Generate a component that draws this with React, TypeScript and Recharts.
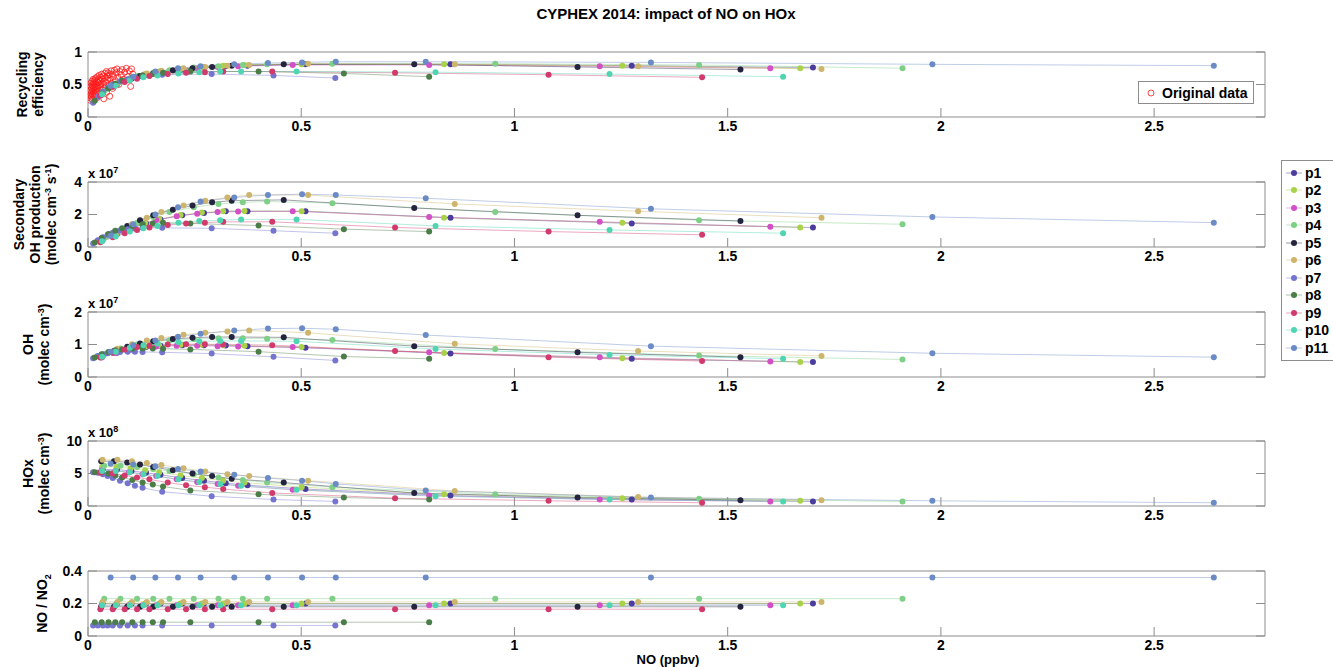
import React from 'react';
import { ComposedChart, Line, Scatter, XAxis, YAxis, Legend } from 'recharts';

const FONT = "'Liberation Sans', Arial, Helvetica, sans-serif";
const AXIS_GREY = '#8c8c8c';

const SERIES = ['p1', 'p2', 'p3', 'p4', 'p5', 'p6', 'p7', 'p8', 'p9', 'p10', 'p11'];
const COLORS = [
  '#4b3d9e', // p1
  '#a9d24a', // p2
  '#d24fc6', // p3
  '#7fcf86', // p4
  '#24243f', // p5
  '#cdb56d', // p6
  '#7575cf', // p7
  '#4b7d48', // p8
  '#d23a6b', // p9
  '#4fd5b2', // p10
  '#6b8bc6', // p11
];

// NO mixing ratio (ppbv) of every model run, one row per scenario
const NO_PPBV: number[][] = [
  [0.034, 0.068, 0.102, 0.136, 0.17, 0.221, 0.272, 0.323, 0.374, 0.51, 0.85, 1.275, 1.7],
  [0.033, 0.067, 0.1, 0.134, 0.167, 0.217, 0.267, 0.317, 0.367, 0.501, 0.835, 1.253, 1.67],
  [0.032, 0.064, 0.096, 0.128, 0.16, 0.208, 0.256, 0.304, 0.352, 0.48, 0.8, 1.2, 1.6],
  [0.038, 0.076, 0.115, 0.153, 0.191, 0.248, 0.306, 0.363, 0.42, 0.573, 0.955, 1.433, 1.91],
  [0.031, 0.061, 0.092, 0.122, 0.153, 0.199, 0.245, 0.291, 0.337, 0.459, 0.765, 1.148, 1.53],
  [0.034, 0.069, 0.103, 0.138, 0.172, 0.224, 0.275, 0.327, 0.378, 0.516, 0.86, 1.29, 1.72],
  [0.012, 0.023, 0.035, 0.046, 0.058, 0.075, 0.093, 0.11, 0.128, 0.174, 0.29, 0.435, 0.58],
  [0.016, 0.032, 0.048, 0.064, 0.08, 0.104, 0.128, 0.152, 0.176, 0.24, 0.4, 0.6, 0.8],
  [0.029, 0.058, 0.086, 0.115, 0.144, 0.187, 0.23, 0.274, 0.317, 0.432, 0.72, 1.08, 1.44],
  [0.033, 0.065, 0.098, 0.13, 0.163, 0.212, 0.261, 0.31, 0.359, 0.489, 0.815, 1.223, 1.63],
  [0.053, 0.106, 0.158, 0.211, 0.264, 0.343, 0.422, 0.502, 0.581, 0.792, 1.32, 1.98, 2.64],
];

// recycling efficiency (fraction)
const RECYCLING: number[][] = [
  [0.36, 0.5, 0.59, 0.65, 0.69, 0.73, 0.76, 0.78, 0.79, 0.81, 0.81, 0.79, 0.76],
  [0.37, 0.51, 0.6, 0.66, 0.7, 0.74, 0.77, 0.79, 0.8, 0.81, 0.81, 0.79, 0.75],
  [0.35, 0.49, 0.58, 0.64, 0.68, 0.72, 0.75, 0.77, 0.78, 0.8, 0.8, 0.78, 0.75],
  [0.4, 0.54, 0.63, 0.68, 0.72, 0.76, 0.78, 0.8, 0.81, 0.82, 0.82, 0.8, 0.75],
  [0.34, 0.48, 0.57, 0.63, 0.67, 0.72, 0.75, 0.77, 0.79, 0.81, 0.81, 0.77, 0.73],
  [0.38, 0.52, 0.61, 0.67, 0.71, 0.75, 0.77, 0.79, 0.8, 0.82, 0.81, 0.78, 0.74],
  [0.22, 0.31, 0.39, 0.45, 0.5, 0.55, 0.58, 0.61, 0.63, 0.65, 0.66, 0.64, 0.6],
  [0.25, 0.36, 0.44, 0.51, 0.56, 0.61, 0.64, 0.66, 0.68, 0.7, 0.7, 0.67, 0.62],
  [0.33, 0.46, 0.54, 0.59, 0.63, 0.66, 0.68, 0.69, 0.7, 0.7, 0.68, 0.65, 0.61],
  [0.35, 0.48, 0.56, 0.61, 0.64, 0.67, 0.69, 0.7, 0.7, 0.7, 0.69, 0.66, 0.62],
  [0.48, 0.62, 0.7, 0.75, 0.78, 0.81, 0.83, 0.84, 0.85, 0.85, 0.84, 0.81, 0.79],
];

// secondary OH production, 1e7 molec cm-3 s-1
const SEC_OH_E7: number[][] = [
  [0.4, 0.8, 1.15, 1.45, 1.7, 1.95, 2.1, 2.2, 2.2, 2.2, 1.8, 1.45, 1.2],
  [0.42, 0.82, 1.18, 1.48, 1.72, 1.97, 2.12, 2.2, 2.22, 2.2, 1.8, 1.5, 1.2],
  [0.4, 0.78, 1.12, 1.42, 1.66, 1.9, 2.05, 2.15, 2.18, 2.2, 1.85, 1.55, 1.25],
  [0.55, 1.05, 1.5, 1.85, 2.15, 2.45, 2.65, 2.75, 2.8, 2.7, 2.15, 1.65, 1.4],
  [0.45, 0.9, 1.3, 1.65, 1.95, 2.3, 2.55, 2.75, 2.85, 2.9, 2.4, 1.95, 1.6],
  [0.5, 0.95, 1.4, 1.8, 2.15, 2.55, 2.85, 3.05, 3.2, 3.2, 2.65, 2.2, 1.8],
  [0.22, 0.42, 0.6, 0.75, 0.88, 1.0, 1.1, 1.15, 1.18, 1.18, 1.15, 1.0, 0.85],
  [0.28, 0.55, 0.8, 1.0, 1.15, 1.3, 1.4, 1.45, 1.5, 1.45, 1.32, 1.1, 0.95],
  [0.3, 0.6, 0.85, 1.05, 1.2, 1.35, 1.45, 1.5, 1.55, 1.55, 1.2, 0.95, 0.75],
  [0.35, 0.65, 0.95, 1.15, 1.3, 1.5, 1.6, 1.65, 1.7, 1.7, 1.3, 1.05, 0.85],
  [0.7, 1.4, 2.0, 2.45, 2.8, 3.05, 3.2, 3.25, 3.2, 3.0, 2.35, 1.85, 1.5],
];

// OH concentration, 1e7 molec cm-3
const OH_E7: number[][] = [
  [0.62, 0.75, 0.85, 0.92, 0.96, 0.98, 0.98, 0.97, 0.95, 0.9, 0.72, 0.56, 0.46],
  [0.63, 0.77, 0.87, 0.93, 0.97, 0.99, 0.99, 0.98, 0.96, 0.92, 0.74, 0.58, 0.46],
  [0.6, 0.74, 0.84, 0.9, 0.94, 0.96, 0.96, 0.95, 0.94, 0.92, 0.76, 0.61, 0.48],
  [0.7, 0.88, 1.0, 1.08, 1.13, 1.17, 1.19, 1.19, 1.18, 1.14, 0.86, 0.66, 0.54],
  [0.62, 0.8, 0.93, 1.03, 1.1, 1.17, 1.21, 1.23, 1.23, 1.22, 0.95, 0.76, 0.61],
  [0.68, 0.87, 1.01, 1.12, 1.2, 1.3, 1.36, 1.4, 1.43, 1.36, 1.02, 0.8, 0.65],
  [0.58, 0.65, 0.7, 0.73, 0.75, 0.77, 0.78, 0.78, 0.77, 0.76, 0.72, 0.62, 0.51],
  [0.6, 0.7, 0.77, 0.82, 0.85, 0.87, 0.88, 0.88, 0.87, 0.85, 0.78, 0.63, 0.56],
  [0.6, 0.75, 0.85, 0.92, 0.96, 1.0, 1.01, 1.01, 1.0, 0.98, 0.8, 0.61, 0.49],
  [0.62, 0.78, 0.9, 0.98, 1.03, 1.08, 1.1, 1.11, 1.11, 1.1, 0.86, 0.68, 0.56],
  [0.78, 0.98, 1.12, 1.24, 1.33, 1.43, 1.49, 1.5, 1.47, 1.29, 0.95, 0.73, 0.61],
];

// HOx concentration, 1e8 molec cm-3
const HOX_E8: number[][] = [
  [5.6, 5.6, 5.4, 5.1, 4.8, 4.3, 3.9, 3.5, 3.2, 2.6, 1.6, 1.0, 0.7],
  [6.0, 6.0, 5.8, 5.5, 5.2, 4.7, 4.3, 3.9, 3.6, 2.9, 1.8, 1.2, 0.8],
  [5.5, 5.4, 5.2, 4.9, 4.6, 4.1, 3.7, 3.4, 3.1, 2.5, 1.6, 1.0, 0.7],
  [6.2, 6.2, 6.0, 5.7, 5.4, 4.9, 4.4, 4.0, 3.6, 2.9, 1.8, 1.1, 0.7],
  [6.9, 6.9, 6.7, 6.4, 6.0, 5.5, 5.0, 4.6, 4.2, 3.6, 2.0, 1.3, 0.9],
  [7.1, 7.1, 6.9, 6.6, 6.3, 5.8, 5.3, 4.9, 4.6, 3.9, 2.3, 1.4, 0.9],
  [5.2, 5.1, 4.9, 4.6, 4.3, 3.9, 3.5, 3.1, 2.8, 2.2, 1.5, 1.0, 0.7],
  [5.2, 5.2, 5.0, 4.7, 4.4, 4.0, 3.6, 3.3, 3.0, 2.4, 1.8, 1.3, 1.0],
  [5.1, 5.0, 4.7, 4.4, 4.1, 3.6, 3.2, 2.9, 2.6, 2.0, 1.2, 0.8, 0.5],
  [5.4, 5.4, 5.2, 4.9, 4.6, 4.1, 3.7, 3.4, 3.1, 2.5, 1.5, 1.0, 0.7],
  [6.5, 6.4, 6.1, 5.7, 5.3, 4.8, 4.3, 3.9, 3.4, 2.4, 1.3, 0.8, 0.5],
];

// NO / NO2 ratio
const NO_NO2: number[][] = [
  [0.2, 0.2, 0.2, 0.2, 0.2, 0.2, 0.2, 0.2, 0.2, 0.2, 0.2, 0.2, 0.2],
  [0.2, 0.2, 0.2, 0.2, 0.2, 0.2, 0.2, 0.2, 0.2, 0.2, 0.2, 0.2, 0.2],
  [0.19, 0.19, 0.19, 0.19, 0.19, 0.19, 0.19, 0.19, 0.19, 0.19, 0.19, 0.19, 0.19],
  [0.23, 0.23, 0.23, 0.23, 0.23, 0.23, 0.23, 0.23, 0.23, 0.23, 0.23, 0.23, 0.23],
  [0.18, 0.18, 0.18, 0.18, 0.18, 0.18, 0.18, 0.18, 0.18, 0.18, 0.18, 0.18, 0.18],
  [0.21, 0.21, 0.21, 0.21, 0.21, 0.21, 0.21, 0.21, 0.21, 0.21, 0.21, 0.21, 0.21],
  [0.065, 0.065, 0.065, 0.065, 0.065, 0.065, 0.065, 0.065, 0.065, 0.065, 0.065, 0.065, 0.065],
  [0.085, 0.085, 0.085, 0.085, 0.085, 0.085, 0.085, 0.085, 0.085, 0.085, 0.085, 0.085, 0.085],
  [0.165, 0.165, 0.165, 0.165, 0.165, 0.165, 0.165, 0.165, 0.165, 0.165, 0.165, 0.165, 0.165],
  [0.19, 0.19, 0.19, 0.19, 0.19, 0.19, 0.19, 0.19, 0.19, 0.19, 0.19, 0.19, 0.19],
  [0.36, 0.36, 0.36, 0.36, 0.36, 0.36, 0.36, 0.36, 0.36, 0.36, 0.36, 0.36, 0.36],
];

// measured recycling efficiency: [NO ppbv, efficiency]
const ORIGINAL_DATA: [number, number][] = [
  [0.004, 0.26], [0.005, 0.33], [0.005, 0.41], [0.006, 0.29], [0.006, 0.47], [0.007, 0.36],
  [0.007, 0.52], [0.008, 0.31], [0.008, 0.44], [0.009, 0.39], [0.009, 0.55], [0.01, 0.27],
  [0.01, 0.48], [0.011, 0.35], [0.011, 0.42], [0.012, 0.51], [0.012, 0.58], [0.013, 0.38],
  [0.013, 0.45], [0.014, 0.32], [0.014, 0.54], [0.015, 0.41], [0.015, 0.49], [0.016, 0.57],
  [0.017, 0.36], [0.017, 0.46], [0.018, 0.52], [0.018, 0.6], [0.019, 0.43], [0.02, 0.38],
  [0.02, 0.55], [0.021, 0.48], [0.022, 0.62], [0.022, 0.3], [0.023, 0.44], [0.024, 0.53],
  [0.025, 0.58], [0.025, 0.4], [0.026, 0.64], [0.027, 0.49], [0.028, 0.56], [0.029, 0.35],
  [0.03, 0.61], [0.03, 0.46], [0.031, 0.52], [0.032, 0.66], [0.033, 0.42], [0.034, 0.58],
  [0.035, 0.63], [0.036, 0.5], [0.037, 0.28], [0.038, 0.55], [0.039, 0.67], [0.04, 0.45],
  [0.041, 0.6], [0.042, 0.53], [0.043, 0.7], [0.044, 0.38], [0.045, 0.63], [0.046, 0.57],
  [0.047, 0.68], [0.049, 0.48], [0.05, 0.65], [0.051, 0.32], [0.052, 0.59], [0.054, 0.71],
  [0.055, 0.52], [0.057, 0.66], [0.058, 0.44], [0.06, 0.62], [0.062, 0.72], [0.064, 0.56],
  [0.066, 0.68], [0.068, 0.74], [0.07, 0.61], [0.072, 0.5], [0.075, 0.7], [0.078, 0.65],
  [0.08, 0.73], [0.083, 0.58], [0.086, 0.69], [0.09, 0.75], [0.093, 0.62], [0.097, 0.71],
  [0.1, 0.47], [0.102, 0.74], [0.105, 0.66],
];

const X_DOMAIN: [number, number] = [0, 2.76];
const X_TICKS = [0, 0.5, 1, 1.5, 2, 2.5];

// page geometry of the stacked axes
const CHART_W = 1333;
const PLOT_LEFT = 88;
const PLOT_RIGHT = 1265;
const PLOT_H = 65;
const PAD_TOP = 20;
const PAD_BOTTOM = 28;

type Panel = {
  key: string;
  top: number;
  values: number[][];
  domain: [number, number];
  ticks: number[];
};

const PANELS: Panel[] = [
  { key: 'recycling', top: 52, values: RECYCLING, domain: [0, 1], ticks: [0, 0.5, 1] },
  { key: 'secoh', top: 182, values: SEC_OH_E7, domain: [0, 4], ticks: [0, 2, 4] },
  { key: 'oh', top: 312, values: OH_E7, domain: [0, 2], ticks: [0, 1, 2] },
  { key: 'hox', top: 441, values: HOX_E8, domain: [0, 10], ticks: [0, 5, 10] },
  { key: 'ratio', top: 571, values: NO_NO2, domain: [0, 0.4], ticks: [0, 0.2, 0.4] },
];

const tickStyle = { fill: '#000', fontSize: 14, fontWeight: 700, fontFamily: FONT };
const NoTick = () => <g />;

const seriesPoints = (values: number[][], i: number) =>
  NO_PPBV[i].map((x, j) => ({ x, y: values[i][j] }));

const originalPoints = ORIGINAL_DATA.map(([x, y]) => ({ x, y }));

const OpenCircle = (props: any) => (
  <circle cx={props.cx} cy={props.cy} r={3} fill="none" stroke="#ff1a1a" strokeWidth={0.8} />
);

const OriginalLegend = () => (
  <div
    style={{
      background: '#fff',
      border: `1px solid ${AXIS_GREY}`,
      height: 23,
      display: 'flex',
      alignItems: 'center',
      fontFamily: FONT,
      fontWeight: 700,
      fontSize: 14,
      boxSizing: 'border-box',
      paddingLeft: 8,
    }}
  >
    <svg width={12} height={10}>
      <circle cx={4} cy={5} r={3} fill="none" stroke="#ff1a1a" strokeWidth={0.8} />
    </svg>
    <span style={{ marginLeft: 3 }}>Original data</span>
  </div>
);

const SeriesLegend = () => (
  <div
    style={{
      background: '#fff',
      border: `1px solid ${AXIS_GREY}`,
      padding: '3px 0 3px 3px',
      fontFamily: FONT,
      fontWeight: 700,
      fontSize: 14,
      boxSizing: 'border-box',
    }}
  >
    {SERIES.map((name, i) => (
      <div key={name} style={{ display: 'flex', alignItems: 'center', height: 17.5 }}>
        <svg width={18} height={10}>
          <line x1={1} y1={5} x2={17} y2={5} stroke={COLORS[i]} strokeOpacity={0.6} strokeWidth={0.8} />
          <circle cx={9} cy={5} r={3} fill={COLORS[i]} />
        </svg>
        <span style={{ marginLeft: 2 }}>{name}</span>
      </div>
    ))}
  </div>
);

function PanelChart({ panel }: { panel: Panel }) {
  return (
    <div style={{ position: 'absolute', left: 0, top: panel.top - PAD_TOP }}>
      <ComposedChart
        width={CHART_W}
        height={PAD_TOP + PLOT_H + PAD_BOTTOM}
        margin={{ top: PAD_TOP - 5, right: CHART_W - PLOT_RIGHT - 5, bottom: PAD_BOTTOM - 20, left: PLOT_LEFT - 40 }}
      >
        <XAxis
          dataKey="x"
          type="number"
          domain={X_DOMAIN}
          ticks={X_TICKS}
          allowDataOverflow
          height={20}
          tickSize={-9}
          tickMargin={13}
          stroke={AXIS_GREY}
          tick={tickStyle}
        />
        <XAxis
          xAxisId="top"
          orientation="top"
          type="number"
          domain={X_DOMAIN}
          ticks={X_TICKS}
          allowDataOverflow
          height={5}
          tickSize={-9}
          stroke={AXIS_GREY}
          tick={NoTick}
        />
        <YAxis
          type="number"
          domain={panel.domain}
          ticks={panel.ticks}
          allowDataOverflow
          width={40}
          tickSize={-9}
          tickMargin={15}
          stroke={AXIS_GREY}
          tick={tickStyle}
        />
        <YAxis
          yAxisId="right"
          orientation="right"
          type="number"
          domain={panel.domain}
          ticks={panel.ticks}
          allowDataOverflow
          width={5}
          tickSize={-9}
          stroke={AXIS_GREY}
          tick={NoTick}
        />
        {SERIES.map((name, i) => (
          <Line
            key={name}
            name={name}
            data={seriesPoints(panel.values, i)}
            dataKey="y"
            stroke={COLORS[i]}
            strokeOpacity={0.55}
            strokeWidth={0.8}
            dot={{ r: 3, fill: COLORS[i], stroke: COLORS[i], strokeWidth: 0 }}
            activeDot={false}
            isAnimationActive={false}
          />
        ))}
        {panel.key === 'recycling' && (
          <Scatter
            name="Original data"
            data={originalPoints}
            dataKey="y"
            shape={OpenCircle}
            isAnimationActive={false}
          />
        )}
        {panel.key === 'recycling' && (
          <Legend
            layout="horizontal"
            verticalAlign="middle"
            align="center"
            content={OriginalLegend}
            wrapperStyle={{ left: 1138, top: 49, width: 116, height: 23 }}
          />
        )}
        {panel.key === 'secoh' && (
          <Legend
            layout="horizontal"
            verticalAlign="middle"
            align="center"
            content={SeriesLegend}
            wrapperStyle={{ left: 1281, top: -2, width: 70, height: 198 }}
          />
        )}
      </ComposedChart>
    </div>
  );
}

const labelStyle = { fontFamily: FONT, fontWeight: 700, fontSize: 14, fill: '#000' } as const;

function VLabel({ x, cy, children }: { x: number; cy: number; children: React.ReactNode }) {
  return (
    <text x={x} y={cy} textAnchor="middle" transform={`rotate(-90 ${x} ${cy})`} style={labelStyle}>
      {children}
    </text>
  );
}

function Exponent({ top, power }: { top: number; power: string }) {
  return (
    <text x={PLOT_LEFT} y={top - 4} style={{ ...labelStyle, fontSize: 13 }}>
      x 10<tspan dy={-5} fontSize={9}>{power}</tspan>
    </text>
  );
}

function Annotations() {
  const mid = (p: Panel) => p.top + PLOT_H / 2;
  return (
    <svg width={CHART_W} height={667} style={{ position: 'absolute', left: 0, top: 0, pointerEvents: 'none' }}>
      <text x={666} y={19} textAnchor="middle" style={{ ...labelStyle, fontSize: 15 }}>
        CYPHEX 2014: impact of NO on HOx
      </text>

      <VLabel x={27} cy={mid(PANELS[0])}>Recycling</VLabel>
      <VLabel x={43} cy={mid(PANELS[0])}>efficiency</VLabel>

      <VLabel x={24} cy={mid(PANELS[1])}>Secondary</VLabel>
      <VLabel x={40} cy={mid(PANELS[1])}>OH production</VLabel>
      <VLabel x={56} cy={mid(PANELS[1])}>
        (molec cm<tspan dy={-5} fontSize={9}>-3</tspan>
        <tspan dy={5}> s</tspan>
        <tspan dy={-5} fontSize={9}>-1</tspan>
        <tspan dy={5}>)</tspan>
      </VLabel>

      <VLabel x={33} cy={mid(PANELS[2])}>OH</VLabel>
      <VLabel x={49} cy={mid(PANELS[2])}>
        (molec cm<tspan dy={-5} fontSize={9}>-3</tspan>
        <tspan dy={5}>)</tspan>
      </VLabel>

      <VLabel x={33} cy={mid(PANELS[3])}>HOx</VLabel>
      <VLabel x={49} cy={mid(PANELS[3])}>
        (molec cm<tspan dy={-5} fontSize={9}>-3</tspan>
        <tspan dy={5}>)</tspan>
      </VLabel>

      <VLabel x={47} cy={mid(PANELS[4])}>
        NO / NO<tspan dy={4} fontSize={9}>2</tspan>
      </VLabel>

      <Exponent top={PANELS[1].top} power="7" />
      <Exponent top={PANELS[2].top} power="7" />
      <Exponent top={PANELS[3].top} power="8" />

      <text x={668} y={664} textAnchor="middle" style={{ ...labelStyle, fontSize: 13 }}>
        NO (ppbv)
      </text>
    </svg>
  );
}

export default function App() {
  return (
    <div
      style={{
        position: 'absolute',
        left: 0,
        top: 0,
        width: CHART_W,
        height: 667,
        overflow: 'hidden',
        background: '#fff',
      }}
    >
      {PANELS.map((p) => (
        <PanelChart key={p.key} panel={p} />
      ))}
      <Annotations />
    </div>
  );
}
